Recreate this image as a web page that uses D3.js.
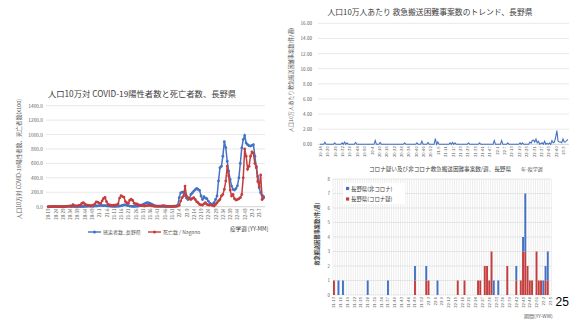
<!DOCTYPE html>
<html><head><meta charset="utf-8">
<script src="https://cdn.jsdelivr.net/npm/d3@7"></script>
<style>
body{margin:0;background:#fff;}
svg{display:block;font-family:"Noto Sans CJK JP","Noto Sans",sans-serif;}
</style></head><body>
<svg id="c" width="569" height="320"></svg>
<script>
// ---------- DATA ----------
// Left chart: weekly values from 20-19, per 100k (x100)
const leftCases = [1,1,0,0,0,0,0,1,1,2, 3,4,5,6,5,4,3,2,2,3, 3,2,2,3,3,4,5,6,7,6, 5,6,8,10,
  12,15,18,16,14,15,12,10, 8,6,5,4,4,5,6,8,12, 18,24,25,20,14, 8,5,4,4,5,6,8,12,20,
  30,40,50,57,52,45,35, 25,15,10,8,6,5,4,4,3,3,3,4,4,5,6,8,10,20,
  125,193,200,200,180,120,100,115,170,190, 216,235,254,240,226,148,100,138,120,110,
  78,50,32,40,55,100,148,356,540,560, 700,900,820,630,494,378,286,240,231,250,
  290,400,600,815,930,985,883,860,845,840, 850,860,700,540,420,260,190,160,140];
const leftDeaths = [0,0,0,2,5,3,2,1,0,0,1,2,3,5,8,10, 10,28,15, 10,12,18, 20,45,57,40,25,
  20,18,15,18,22,40, 67,62,50, 45,80,114,129,71,35,24, 20,18,20,22,25,
  40,119,152,140,133,71,55,48,90,105,86,48,40,38,25,20,
  15,12,10,12,15,20,18,12,8,6,5,5,6,8,10,15,12,8,5,4,4,3,3,4,5,8,
  20,78,125,150,286,148,125,110,100,115, 125,100,70,55,32,25,23,40,55,32,
  23,23,23,15,10,32,55,80,100,148, 170,240,356,563,425,231,148,170,110,92,
  100,110,125,170,400,800,700,520,560,700, 760,740,600,560,350,280,440,100,120];
const leftXTicks = ["20-19","20-24","20-29","20-34","20-39","20-44","20-49","21-1","21-6","21-11","21-16","21-21","21-26","21-31","21-36","21-41","21-46","21-51","22-4","22-9","22-14","22-19","22-24","22-29","22-34","22-39","22-44","22-49","23-2","23-7"];
const leftYTicks = [0,200,400,600,800,1000,1200,1400];
const leftSeriesNames = ["感染者数_長野県","死亡数 / Nagano"];

// Top-right: weekly difficult-transport cases per 100k, from 19-14
const trendValues = [0,0,0,0,0.27,0,0,0,0,0, 0,0,0.2,0,0,0,0,0,0.2,0, 0.3,0,0.2,0,0,0,0,0,0,0.25,
  0,0,0,0,0,0,0,0,0,0, 0,0,0,0,0,0.5,0,0,0,0.25, 0,0,0,0,0,0,0,0,0,0,
  0,0,0,0,0,0,0,0,0,0.2, 0,0,0,0,0,0,0,0,0,0.2, 0,0,0,0.4,0,0,0,0,0.25,0,
  0,0,0,0,0.75,0,0.3,0,0,0, 0,0,0,0,0,0,0.2,0,0.25,0, 0.2,0,0,0,0,0,0,0,0,0,
  0,0.2,0,0,0,0,0,0,0,0, 0.2,0,0,0,0,0,0,0,0,0, 0,0,0.5,0,0,0,0,0,0.5,0,
  0,0,0,0.2,0,0,0,0,0,0, 0,0,0,0.2,0,0.2,0,0,0,0, 0,0.3,0.15,0.5,0.55,0.3,0.7,0.2,0.4,0,
  0.1,0.2,0,0.4,0,0.15,0,0.2,0,0.5, 0.2,0.3,0.9,1.8,0.4,0.3,0.3,0.2,0.7,0.3, 0.3,0.5,0.65];
const trendXTicks = ["19-14","19-20","19-26","19-32","19-38","19-44","19-50","20-4","20-10","20-16","20-22","20-28","20-34","20-40","20-46","20-52","21-5","21-11","21-17","21-23","21-29","21-35","21-41","21-47","22-1","22-7","22-13","22-19","22-25","22-31","22-37","22-43","22-49","23-3"];
const trendYTicks = [0,2,4,6,8,10,12,14,16];

// Bottom-right: weekly counts from 21-13
const nonCorona = [0,0,1,0,1,0,0,0,0,0, 0,0,0,0,0,1,0,0,0,0, 0,0,0,0,1,0,0,0,0,0,
  0,0,0,0,0,0,1,0,0,0, 0,1,0,0,0,0,1,0,0,0, 0,0,0,0,0,0,0,0,0,0,
  0,0,0,0,0,0,0,0,0,0, 0,1,0,1,0,0,0,0,0,0, 0,1,0,0,1,4,0,0,0,0, 0,0,0,1,1,2,0];
const coronaSusp = [1,0,0,0,0,0,0,0,0,0, 0,0,0,0,0,0,0,0,0,0, 0,0,0,0,0,0,0,0,0,0,
  0,0,0,0,0,0,1,0,0,0, 0,1,1,0,0,0,0,0,0,0, 0,0,0,0,0,1,0,0,1,0,
  0,0,0,0,1,1,0,2,2,1, 3,0,0,0,0,0,0,2,0,0, 0,1,0,1,3,3,2,1,1,0, 3,1,1,0,1,1,0];
const barXTicks = ["21-13","21-16","21-19","21-22","21-25","21-28","21-31","21-34","21-37","21-40","21-43","21-46","21-49","21-52","22-3","22-6","22-9","22-12","22-15","22-18","22-21","22-24","22-27","22-30","22-33","22-36","22-39","22-42","22-45","22-48","22-51","23-2","23-5"];
const barYTicks = [0,1,2,3,4,5,6,7,8];
const barSeriesNames = ["長野県(非コロナ)","長野県(コロナ疑)"];

// ---------- HELPERS ----------
const weeksPerYear = {2019:52,2020:53,2021:52,2022:52,2023:52};
function weekSeq(y,w,n){const out=[];for(let k=0;k<n;k++){out.push(String(y%100)+"-"+w);w++;if(w>weeksPerYear[y]){w=1;y++;}}return out;}
const leftCats = weekSeq(2020,19,leftCases.length);
const trendCats = weekSeq(2019,14,trendValues.length);
const barCats = weekSeq(2021,13,nonCorona.length);

const BLUE="#4472C4", RED="#C43E3E", GRID="#d9d9d9", TXT="#595959", DARK="#404040";
const FONT='"Noto Sans CJK JP","Noto Sans",sans-serif';
const svg=d3.select("#c");

function styleAxis(g,size){
  g.attr("font-family",FONT).attr("font-size",size);
  g.select(".domain").remove();
  g.selectAll("text").attr("fill",TXT);
}
function rotX(g){
  g.selectAll("text").attr("x",-2).attr("y",0).attr("dy","0.35em")
    .attr("transform","rotate(-90)").style("text-anchor","end");
}

// ---------- LEFT CHART ----------
{
  const x=d3.scalePoint().domain(leftCats).range([48.3,263.6]);
  const y=d3.scaleLinear().domain([0,1400]).range([206.7,105.7]);
  const g=svg.append("g");
  g.append("text").attr("x",142).attr("y",97).attr("text-anchor","middle")
    .attr("font-size",8.3).attr("fill",DARK).text("人口10万対 COVID-19陽性者数と死亡者数、長野県");
  g.selectAll(".gl").data(leftYTicks.slice(1)).join("line")
    .attr("x1",46).attr("x2",265).attr("y1",d=>y(d)).attr("y2",d=>y(d))
    .attr("stroke",GRID).attr("stroke-width",0.6);
  g.append("line").attr("x1",46).attr("x2",265).attr("y1",y(0)).attr("y2",y(0)).attr("stroke","#bfbfbf").attr("stroke-width",0.7);
  g.append("g").attr("transform","translate(45,0)")
    .call(d3.axisLeft(y).tickValues(leftYTicks).tickFormat(d3.format(".1f")).tickSize(0).tickPadding(2))
    .call(a=>styleAxis(a,4.8));
  g.append("g").attr("transform",`translate(0,${y(0)})`)
    .call(d3.axisBottom(x).tickValues(leftXTicks).tickSize(0))
    .call(a=>styleAxis(a,4.3)).call(rotX);
  g.append("text").attr("transform","translate(21,159) rotate(-90)").attr("text-anchor","middle")
    .attr("font-size",5.6).attr("fill",TXT).text("人口10万対 COVID-19陽性者数、死亡者数(x100)");
  const line=d3.line().x((d,i)=>x(leftCats[i])).y(d=>y(d));
  [[leftCases,BLUE],[leftDeaths,RED]].forEach(([vals,col])=>{
    g.append("path").datum(vals).attr("d",line).attr("fill","none").attr("stroke",col).attr("stroke-width",1.5);
    g.append("g").selectAll("circle").data(vals).join("circle")
      .attr("cx",(d,i)=>x(leftCats[i])).attr("cy",d=>y(d)).attr("r",1.4).attr("fill",col);
  });
  // legend
  const lg=[[88,BLUE,leftSeriesNames[0]],[148,RED,leftSeriesNames[1]]];
  lg.forEach(([lx,col,name])=>{
    g.append("line").attr("x1",lx).attr("x2",lx+13).attr("y1",232).attr("y2",232).attr("stroke",col).attr("stroke-width",1.4);
    g.append("circle").attr("cx",lx+6.5).attr("cy",232).attr("r",1.5).attr("fill",col);
    g.append("text").attr("x",lx+15).attr("y",233.8).attr("font-size",5).attr("fill",TXT).text(name);
  });
  g.append("text").attr("x",230).attr("y",231).attr("font-size",5.6).attr("fill",DARK).text("疫学週 [YY-MM]");
}

// ---------- TOP-RIGHT CHART ----------
{
  const x=d3.scalePoint().domain(trendCats).range([320,567.9]);
  const y=d3.scaleLinear().domain([0,16]).range([144.3,23.3]);
  const g=svg.append("g");
  g.append("text").attr("x",430).attr("y",15).attr("text-anchor","middle")
    .attr("font-size",7.8).attr("fill",DARK).text("人口10万人あたり 救急搬送困難事案数のトレンド、長野県");
  g.selectAll(".gl").data(trendYTicks.slice(1)).join("line")
    .attr("x1",318).attr("x2",569).attr("y1",d=>y(d)).attr("y2",d=>y(d))
    .attr("stroke",GRID).attr("stroke-width",0.6);
  g.append("line").attr("x1",318).attr("x2",569).attr("y1",y(0)).attr("y2",y(0)).attr("stroke","#bfbfbf").attr("stroke-width",0.7);
  g.append("g").attr("transform","translate(314,0)")
    .call(d3.axisLeft(y).tickValues(trendYTicks).tickFormat(d3.format(".2f")).tickSize(0).tickPadding(2))
    .call(a=>styleAxis(a,4.6));
  g.append("g").attr("transform",`translate(0,${y(0)})`)
    .call(d3.axisBottom(x).tickValues(trendXTicks).tickSize(0))
    .call(a=>styleAxis(a,4.2)).call(rotX);
  g.append("text").attr("transform","translate(293,80) rotate(-90)").attr("text-anchor","middle")
    .attr("font-size",5.2).attr("fill",TXT).text("人口10万人あたり救急搬送困難事案数(件/週)");
  const line=d3.line().x((d,i)=>x(trendCats[i])).y(d=>y(d));
  g.append("path").datum(trendValues).attr("d",line).attr("fill","none").attr("stroke",BLUE).attr("stroke-width",1.1);
  g.append("text").attr("x",521).attr("y",171).attr("font-size",5).attr("fill",TXT).text("年-疫学週");
}

// ---------- BOTTOM-RIGHT CHART ----------
{
  const x=d3.scaleBand().domain(barCats).range([333,551]).paddingInner(0.15);
  const y=d3.scaleLinear().domain([0,8]).range([295,179]);
  const g=svg.append("g");
  g.append("text").attr("x",440).attr("y",170.5).attr("text-anchor","middle")
    .attr("font-size",5.6).attr("fill",DARK).text("コロナ疑い及び非コロナ救急搬送困難事案数/週、長野県");
  const step=x.step();
  g.selectAll(".vg").data(d3.range(barCats.length+1)).join("line")
    .attr("x1",d=>333+d*step).attr("x2",d=>333+d*step).attr("y1",179).attr("y2",295)
    .attr("stroke","#dadada").attr("stroke-width",0.5);
  g.selectAll(".hg").data(barYTicks).join("line")
    .attr("x1",333).attr("x2",551).attr("y1",d=>y(d)).attr("y2",d=>y(d))
    .attr("stroke",GRID).attr("stroke-width",0.6);
  g.append("g").attr("transform","translate(331,0)")
    .call(d3.axisLeft(y).tickValues(barYTicks).tickFormat(d3.format("d")).tickSize(0).tickPadding(1))
    .call(a=>styleAxis(a,4.4));
  g.append("g").attr("transform",`translate(0,${y(0)})`)
    .call(d3.axisBottom(x).tickValues(barXTicks).tickSize(0))
    .call(a=>styleAxis(a,4.2)).call(rotX);
  g.append("text").attr("transform","translate(319,234) rotate(-90)").attr("text-anchor","middle")
    .attr("font-size",5.2).attr("font-weight","bold").attr("fill",DARK).text("救急搬送困難事案数(件/週)");
  const rows=barCats.map((c,i)=>({c,red:coronaSusp[i],blue:nonCorona[i]}));
  g.append("g").selectAll("rect").data(rows.filter(d=>d.red>0)).join("rect")
    .attr("x",d=>x(d.c)).attr("width",x.bandwidth()).attr("y",d=>y(d.red)).attr("height",d=>y(0)-y(d.red)).attr("fill",RED);
  g.append("g").selectAll("rect").data(rows.filter(d=>d.blue>0)).join("rect")
    .attr("x",d=>x(d.c)).attr("width",x.bandwidth()).attr("y",d=>y(d.red+d.blue)).attr("height",d=>y(d.red)-y(d.red+d.blue)).attr("fill",BLUE);
  // legend
  g.append("rect").attr("x",343).attr("y",183).attr("width",62).attr("height",21).attr("fill","#fff");
  [[BLUE,barSeriesNames[0],188.5],[RED,barSeriesNames[1],199]].forEach(([col,name,yy])=>{
    g.append("rect").attr("x",346).attr("y",yy-1.6).attr("width",3.2).attr("height",3.2).attr("fill",col);
    g.append("text").attr("x",351).attr("y",yy+2).attr("font-size",5.4).attr("fill",DARK).text(name);
  });
  g.append("text").attr("x",524).attr("y",318).attr("font-size",5).attr("fill",TXT).text("期間(YY-WW)");
}
// page number
svg.append("text").attr("x",555.5).attr("y",305.5).attr("font-size",12).attr("font-family","Liberation Sans, Arial, sans-serif").attr("fill","#000").text("25");
</script>
</body></html>
